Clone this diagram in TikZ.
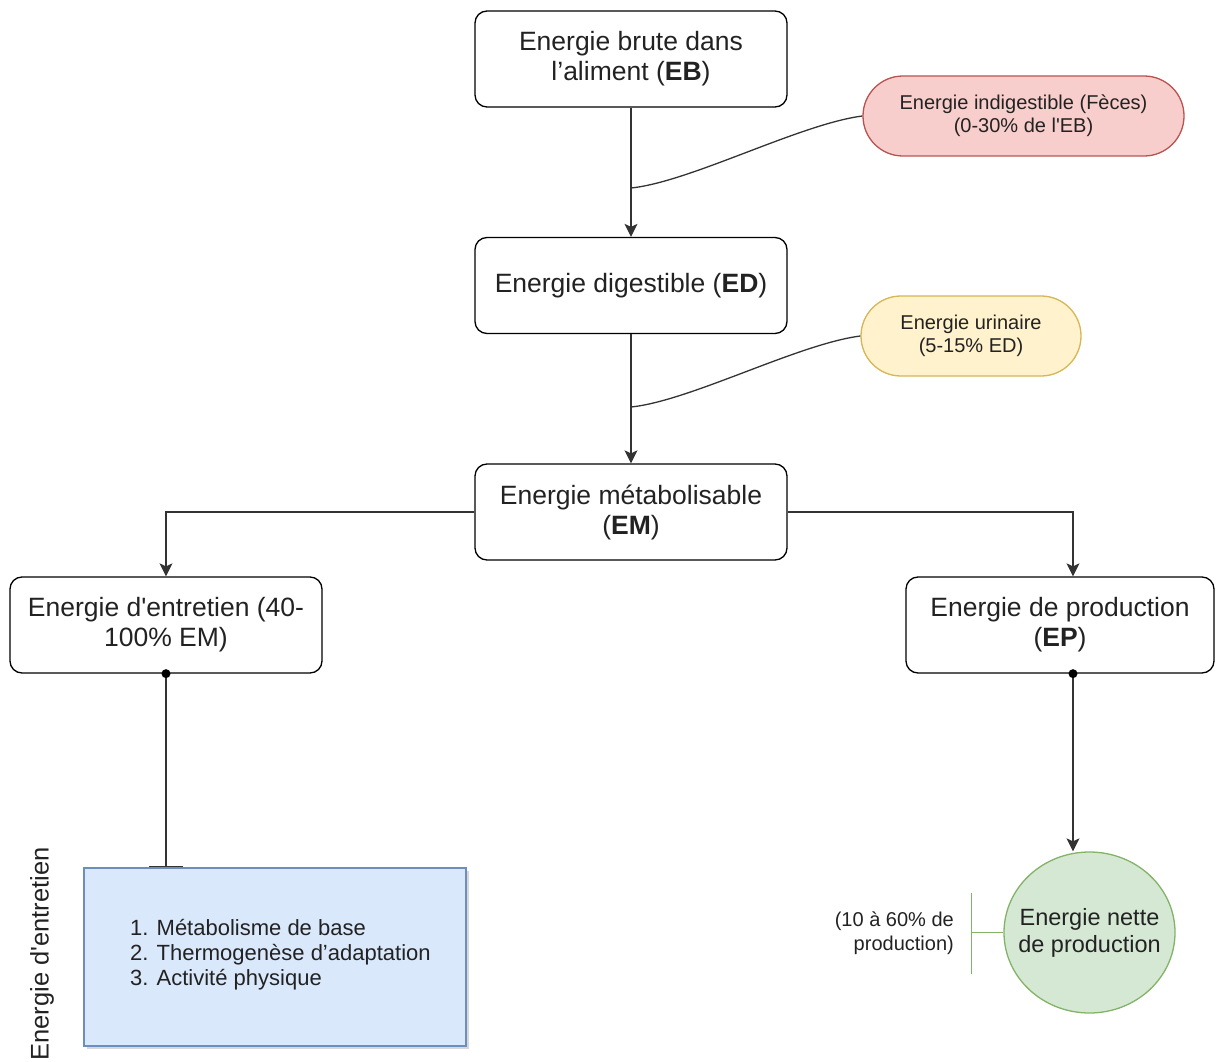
\documentclass[tikz,border=0pt]{standalone}
\usepackage{fontspec}
\setmainfont{Liberation Sans}[Ligatures=TeXOff]
\usetikzlibrary{arrows.meta,shadows,calc,shapes.geometric}
\definecolor{ln}{HTML}{333333}
\definecolor{txt}{HTML}{222222}
\definecolor{redf}{HTML}{F8CECC}\definecolor{redd}{HTML}{B85450}
\definecolor{yelf}{HTML}{FFF2CC}\definecolor{yeld}{HTML}{D6B656}
\definecolor{bluf}{HTML}{DAE8FC}\definecolor{blud}{HTML}{6C8EBF}
\definecolor{grnf}{HTML}{D5E8D4}\definecolor{grnd}{HTML}{82B366}
\begin{document}
\begin{tikzpicture}[x=1pt,y=-1pt,
  stepbox/.style={draw=black,line width=1.3pt,rounded corners=12pt,minimum width=312pt,minimum height=96pt,align=center,text=txt,inner sep=0pt,font=\fontsize{26.5}{30}\selectfont},
  pill/.style={line width=1.3pt,rounded corners=39.9pt,minimum height=80pt,align=center,text=txt,inner sep=0pt,font=\fontsize{20}{23}\selectfont},
  conn/.style={draw=ln,line width=1.3pt},
  arr/.style={conn,-{Stealth[length=13pt,width=13pt,inset=3pt]}}]
\useasboundingbox (0,0) rectangle (1216,1062);

% main boxes
\node[stepbox] (EB) at (631,59) {Energie brute dans\\l’aliment (\textbf{EB})};
\node[stepbox] (ED) at (631,285.5) {Energie digestible (\textbf{ED})};
\node[stepbox] (EM) at (631,512) {Energie métabolisable\\(\textbf{EM})};
\node[stepbox] (ent) at (166,625) {Energie d'entretien (40-\\100\% EM)};
\node[stepbox,minimum width=308pt] (prod) at (1060,625) {Energie de production\\(\textbf{EP})};

% side pills
\node[pill,draw=redd,fill=redf,minimum width=321pt] (fec) at (1023.5,116) {Energie indigestible (Fèces)\\(0-30\% de l'EB)};
\node[pill,draw=yeld,fill=yelf,minimum width=220pt] (uri) at (971,336) {Energie urinaire\\(5-15\% ED)};

% bottom shapes
\node[draw=blud,fill=bluf,line width=1.3pt,minimum width=382pt,minimum height=178pt,inner sep=0pt,
      drop shadow={shadow xshift=3pt,shadow yshift=-3pt,opacity=0.35,fill=black!45}] (blue) at (275,957) {};
\node[anchor=west,align=left,text=txt,font=\fontsize{22}{25}\selectfont,inner sep=0pt] (list) at (130,955)
  {1. Métabolisme de base\\2. Thermogenèse d’adaptation\\3. Activité physique};
\node[rotate=90,text=txt,font=\fontsize{25.5}{30}\selectfont,inner sep=0pt] (lbl) at (42,954) {Energie d'entretien};

\node[ellipse,draw=grnd,fill=grnf,line width=1.3pt,minimum width=171pt,minimum height=161pt,inner sep=0pt] (net) at (1089.5,932.5) {};
\node[align=center,text=txt,font=\fontsize{23.5}{27}\selectfont,inner sep=0pt] (nettxt) at (net.center) {Energie nette\\de production};
\node[anchor=east,align=right,text=txt,font=\fontsize{20}{24}\selectfont,inner sep=0pt] (pct) at (954,933) {(10 à 60\% de\\production)};

% connectors
\draw[arr] (EB) -- (ED);
\draw[arr] (ED) -- (EM);
\coordinate (j1) at (631,188);
\coordinate (j2) at (631,407);
\draw[conn] (fec.west) .. controls (800,124) and (690,182) .. (j1);
\draw[conn] (uri.west) .. controls (798,344) and (690,401) .. (j2);
\draw[arr] (EM.west) -| (ent.north);
\draw[arr] (EM.east) -| ([xshift=13pt]prod.north);
\draw[conn,-{Bar[width=34pt,line width=1.5pt]}] (ent.south) -- (ent.south |- blue.north);
\fill[black] (ent.south) circle (4.5pt);
\draw[arr] ([xshift=13pt]prod.south) -- ([xshift=13pt]prod.south |- net.north);
\fill[black] ([xshift=13pt]prod.south) circle (4.5pt);

% green bracket
\coordinate (gb) at ($(net.west)+(-32,0)$);
\draw[draw=grnd,line width=1.3pt] (net.west) -- (gb);
\draw[draw=grnd,line width=1.3pt] ($(gb)+(0,-40)$) -- ($(gb)+(0,41)$);
\end{tikzpicture}
\end{document}
